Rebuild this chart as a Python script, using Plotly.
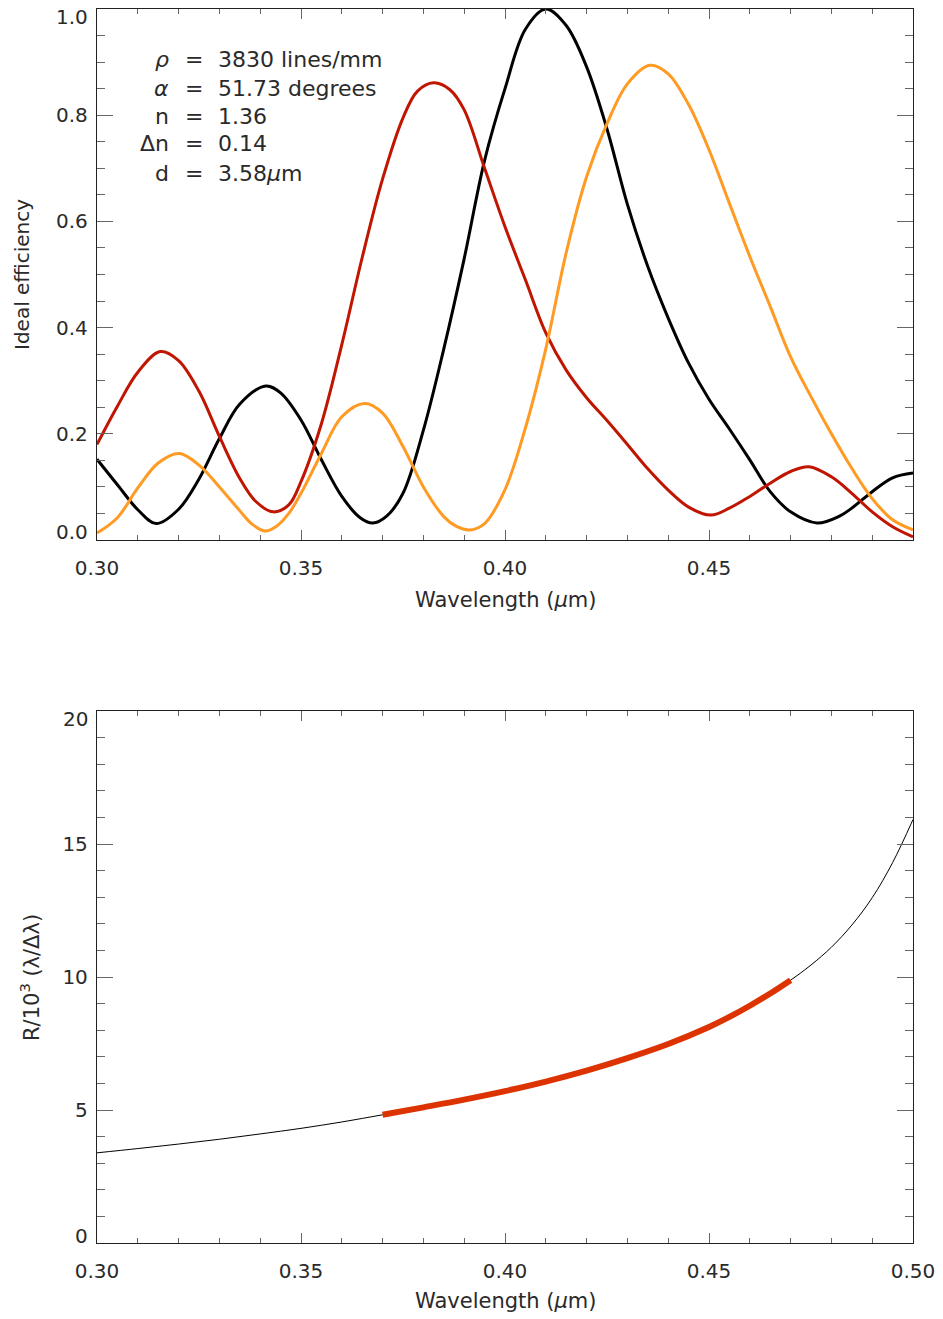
import plotly.graph_objects as go

# ---------------- data ----------------
black_wl = [0.300, 0.305, 0.310, 0.3145, 0.320, 0.325, 0.330, 0.335, 0.3414, 0.345,
            0.350, 0.355, 0.360, 0.3645, 0.3676, 0.371, 0.375, 0.380, 0.385, 0.390,
            0.395, 0.400, 0.405, 0.410, 0.415, 0.420, 0.425, 0.430, 0.435, 0.440,
            0.445, 0.450, 0.455, 0.460, 0.465, 0.470, 0.4765, 0.482, 0.485, 0.490,
            0.495, 0.500]
black_eff = [0.152, 0.104, 0.057, 0.031, 0.058, 0.115, 0.191, 0.256, 0.290, 0.277,
             0.226, 0.151, 0.082, 0.042, 0.032, 0.045, 0.088, 0.207, 0.360, 0.530,
             0.715, 0.850, 0.962, 1.000, 0.969, 0.891, 0.774, 0.632, 0.515, 0.418,
             0.333, 0.265, 0.209, 0.151, 0.091, 0.053, 0.032, 0.045, 0.060, 0.091,
             0.117, 0.126]

red_wl = [0.300, 0.305, 0.310, 0.3155, 0.320, 0.325, 0.330, 0.335, 0.339, 0.3432,
          0.347, 0.350, 0.355, 0.360, 0.365, 0.370, 0.375, 0.3785, 0.3825, 0.3865,
          0.390, 0.395, 0.400, 0.405, 0.410, 0.415, 0.420, 0.425, 0.430, 0.435,
          0.440, 0.445, 0.4505, 0.455, 0.460, 0.465, 0.470, 0.4745, 0.480, 0.485,
          0.490, 0.495, 0.500]
red_eff = [0.180, 0.252, 0.316, 0.355, 0.338, 0.280, 0.195, 0.116, 0.072, 0.053,
           0.066, 0.110, 0.219, 0.368, 0.532, 0.680, 0.795, 0.845, 0.861, 0.848,
           0.810, 0.700, 0.590, 0.490, 0.390, 0.320, 0.268, 0.225, 0.180, 0.134,
           0.094, 0.062, 0.047, 0.060, 0.082, 0.107, 0.129, 0.138, 0.119, 0.088,
           0.053, 0.025, 0.006]

orange_wl = [0.300, 0.305, 0.310, 0.315, 0.3202, 0.325, 0.330, 0.335, 0.338, 0.3412,
             0.344, 0.347, 0.350, 0.355, 0.360, 0.3656, 0.370, 0.375, 0.380, 0.385,
             0.388, 0.3914, 0.395, 0.400, 0.405, 0.410, 0.415, 0.420, 0.425, 0.430,
             0.4355, 0.440, 0.445, 0.450, 0.455, 0.460, 0.465, 0.470, 0.475, 0.480,
             0.485, 0.490, 0.495, 0.500]
orange_eff = [0.013, 0.042, 0.098, 0.145, 0.163, 0.141, 0.100, 0.055, 0.030, 0.017,
              0.026, 0.050, 0.088, 0.163, 0.232, 0.257, 0.239, 0.176, 0.100, 0.044,
              0.026, 0.019, 0.031, 0.095, 0.211, 0.360, 0.541, 0.684, 0.784, 0.859,
              0.894, 0.878, 0.820, 0.735, 0.634, 0.534, 0.440, 0.345, 0.270, 0.200,
              0.135, 0.078, 0.038, 0.019]

res_wl = [0.30, 0.31, 0.32, 0.33, 0.34, 0.35, 0.36, 0.37, 0.38, 0.39, 0.40,
          0.41, 0.42, 0.43, 0.44, 0.45, 0.455, 0.46, 0.465, 0.47, 0.475, 0.48,
          0.485, 0.49, 0.495, 0.50]
resolution = [3.39, 3.55, 3.72, 3.90, 4.10, 4.31, 4.55, 4.82, 5.10, 5.39, 5.71,
              6.07, 6.48, 6.95, 7.48, 8.12, 8.50, 8.92, 9.38, 9.88, 10.45, 11.12,
              11.95, 12.98, 14.30, 15.92]

band_wl = [0.37, 0.38, 0.39, 0.40, 0.41, 0.42, 0.43, 0.44, 0.45, 0.455, 0.46,
           0.465, 0.47]
band_res = [4.82, 5.10, 5.39, 5.71, 6.07, 6.48, 6.95, 7.48, 8.12, 8.50, 8.92,
            9.38, 9.88]

param_labels = ["<i>ρ</i>", "<i>α</i>", "n", "Δn", "d"]
param_values = ["3830 lines/mm", "51.73 degrees", "1.36", "0.14", "3.58<i>μ</i>m"]
param_y = [0.904, 0.851, 0.798, 0.746, 0.691]

top_xticks = [0.30, 0.35, 0.40, 0.45]
top_xtext = ["0.30", "0.35", "0.40", "0.45"]
bot_xticks = [0.30, 0.35, 0.40, 0.45, 0.50]
bot_xtext = ["0.30", "0.35", "0.40", "0.45", "0.50"]
top_yticks = [0.2, 0.4, 0.6, 0.8]
top_ytext = ["0.2", "0.4", "0.6", "0.8"]
bot_yticks = [5, 10, 15]
bot_ytext = ["5", "10", "15"]
# end labels (IDL draws them nudged inside the axis span)
top_yend = ["0.0", "1.0"]
bot_yend = ["0", "20"]

# ---------------- figure ----------------
W, H = 943, 1319
FONT = "DejaVu Sans"
TXT = "#2a2a2a"
SMOOTH = 1.0

fig = go.Figure()

for xs, ys, col in [(black_wl, black_eff, "#000000"),
                    (red_wl, red_eff, "#c01500"),
                    (orange_wl, orange_eff, "#ff9a22")]:
    fig.add_trace(go.Scatter(x=xs, y=ys, mode="lines",
                             line=dict(color=col, width=3, shape="spline", smoothing=SMOOTH),
                             xaxis="x", yaxis="y", showlegend=False, hoverinfo="skip"))

fig.add_trace(go.Scatter(x=res_wl, y=resolution, mode="lines",
                         line=dict(color="#000000", width=1, shape="spline", smoothing=SMOOTH),
                         xaxis="x2", yaxis="y2", showlegend=False, hoverinfo="skip"))
fig.add_trace(go.Scatter(x=band_wl, y=band_res, mode="lines",
                         line=dict(color="#dd3300", width=6, shape="spline", smoothing=SMOOTH),
                         xaxis="x2", yaxis="y2", showlegend=False, hoverinfo="skip"))

xdom = [97 / W, 913 / W]
top_dom = [1 - 540 / H, 1 - 9 / H]
bot_dom = [1 - 1243 / H, 1 - 711 / H]

axcommon = dict(showline=True, linecolor="#222", linewidth=1.3, mirror="ticks",
                ticks="inside", tickcolor="#666", tickwidth=1.3, showgrid=False,
                zeroline=False, automargin=False,
                tickfont=dict(family=FONT, size=20, color=TXT))

xcommon = dict(axcommon, ticklen=10, range=[0.30, 0.50],
               minor=dict(ticks="inside", ticklen=5, dtick=0.01, tickcolor="#666",
                          tickwidth=1.2, showgrid=False),
               ticklabelstandoff=10)

fig.update_layout(
    width=W, height=H,
    margin=dict(l=0, r=0, t=0, b=0),
    paper_bgcolor="white", plot_bgcolor="white",
    xaxis=dict(xcommon, domain=xdom, anchor="y", tickvals=top_xticks, ticktext=top_xtext),
    yaxis=dict(axcommon, domain=top_dom, anchor="x", range=[0, 1.0], ticklen=16,
               tickvals=top_yticks, ticktext=top_ytext, ticklabelstandoff=4,
               minor=dict(ticks="inside", ticklen=8, dtick=0.05, tickcolor="#666",
                          tickwidth=1.2, showgrid=False)),
    xaxis2=dict(xcommon, domain=xdom, anchor="y2", tickvals=bot_xticks, ticktext=bot_xtext),
    yaxis2=dict(axcommon, domain=bot_dom, anchor="x2", range=[0, 20], ticklen=16,
                tickvals=bot_yticks, ticktext=bot_ytext, ticklabelstandoff=4,
                minor=dict(ticks="inside", ticklen=8, dtick=1, tickcolor="#666",
                           tickwidth=1.2, showgrid=False)),
)

ann = []
pfont = dict(family=FONT, size=22, color=TXT)
for lab, val, yv in zip(param_labels, param_values, param_y):
    ann.append(dict(x=0.31814, y=yv, xref="x", yref="y", text=lab, showarrow=False,
                    xanchor="right", yanchor="middle", font=pfont))
    ann.append(dict(x=0.32378, y=yv, xref="x", yref="y", text="=", showarrow=False,
                    xanchor="center", yanchor="middle", font=pfont))
    ann.append(dict(x=0.32917, y=yv, xref="x", yref="y", text=val, showarrow=False,
                    xanchor="left", yanchor="middle", font=pfont))

# y end labels: nudged inward like the reference
for t, ypx in zip(top_yend, [532, 17]):
    ann.append(dict(x=90 / W, y=1 - ypx / H, xref="paper", yref="paper", text=t,
                    showarrow=False, xanchor="right", yanchor="middle",
                    font=dict(family=FONT, size=20, color=TXT)))
for t, ypx in zip(bot_yend, [1236, 719]):
    ann.append(dict(x=90 / W, y=1 - ypx / H, xref="paper", yref="paper", text=t,
                    showarrow=False, xanchor="right", yanchor="middle",
                    font=dict(family=FONT, size=20, color=TXT)))

ann.append(dict(x=22 / W, y=1 - 275 / H, xref="paper", yref="paper",
                text="Ideal efficiency", textangle=-90, showarrow=False,
                xanchor="center", yanchor="middle",
                font=dict(family=FONT, size=20, color=TXT)))
ann.append(dict(x=505 / W, y=1 - 600 / H, xref="paper", yref="paper",
                text="Wavelength (<i>μ</i>m)", showarrow=False,
                xanchor="center", yanchor="middle",
                font=dict(family=FONT, size=21, color=TXT)))
ann.append(dict(x=30 / W, y=1 - 978 / H, xref="paper", yref="paper",
                text="R/10<sup>3</sup> (λ/Δλ)", textangle=-90, showarrow=False,
                xanchor="center", yanchor="middle",
                font=dict(family=FONT, size=21, color=TXT)))
ann.append(dict(x=505 / W, y=1 - 1301 / H, xref="paper", yref="paper",
                text="Wavelength (<i>μ</i>m)", showarrow=False,
                xanchor="center", yanchor="middle",
                font=dict(family=FONT, size=21, color=TXT)))
fig.update_layout(annotations=ann)

fig.write_html("out.html",
               config={"displayModeBar": False},
               post_script="document.body.style.margin='0px';document.body.style.overflow='hidden';")
